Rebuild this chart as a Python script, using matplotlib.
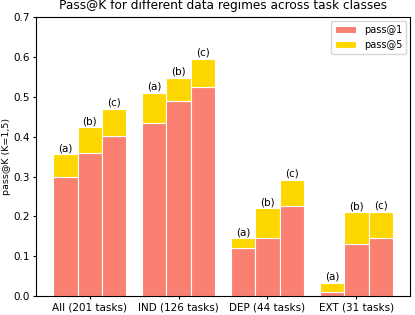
import numpy as np
import matplotlib.pyplot as plt

groups = ['All (201 tasks)', 'IND (126 tasks)', 'DEP (44 tasks)', 'EXT (31 tasks)']
regimes = ['(a)', '(b)', '(c)']

# pass@1 per regime, one entry per task class
pass1 = {
    '(a)': [0.300, 0.435, 0.121, 0.010],
    '(b)': [0.359, 0.490, 0.145, 0.132],
    '(c)': [0.402, 0.526, 0.227, 0.145],
}
# pass@5 totals
pass5 = {
    '(a)': [0.356, 0.510, 0.145, 0.034],
    '(b)': [0.424, 0.548, 0.220, 0.210],
    '(c)': [0.470, 0.596, 0.292, 0.211],
}

fig, ax = plt.subplots(figsize=(4.15, 3.15), dpi=100)

index = np.arange(len(groups))
bar_width = 0.275

for i, r in enumerate(regimes):
    x = index + (i - 1) * bar_width
    p1 = np.array(pass1[r])
    p5 = np.array(pass5[r])
    ax.bar(x, p1, bar_width, color='salmon', edgecolor='white', linewidth=0.8,
           label='pass@1' if i == 0 else None)
    ax.bar(x, p5 - p1, bar_width, bottom=p1, color='gold', edgecolor='white',
           linewidth=0.8, label='pass@5' if i == 0 else None)
    for xi, yi in zip(x, p5):
        ax.text(xi, yi + 0.003, r, ha='center', va='bottom', fontsize=7.5)

ax.set_ylim(0, 0.7)
ax.set_xticks(index)
ax.set_xticklabels(groups, fontsize=7.5)
ax.tick_params(axis='both', labelsize=7.5, length=2.5, pad=2)
ax.set_ylabel('pass@K (K=1,5)', fontsize=6.8, labelpad=2)
ax.set_title('Pass@K for different data regimes across task classes', fontsize=8.7)
ax.legend(loc='upper right', fontsize=7, handlelength=2.2, borderaxespad=0.4)

fig.subplots_adjust(left=0.087, right=0.988, top=0.945, bottom=0.06)
plt.savefig('out.png', dpi=100)
